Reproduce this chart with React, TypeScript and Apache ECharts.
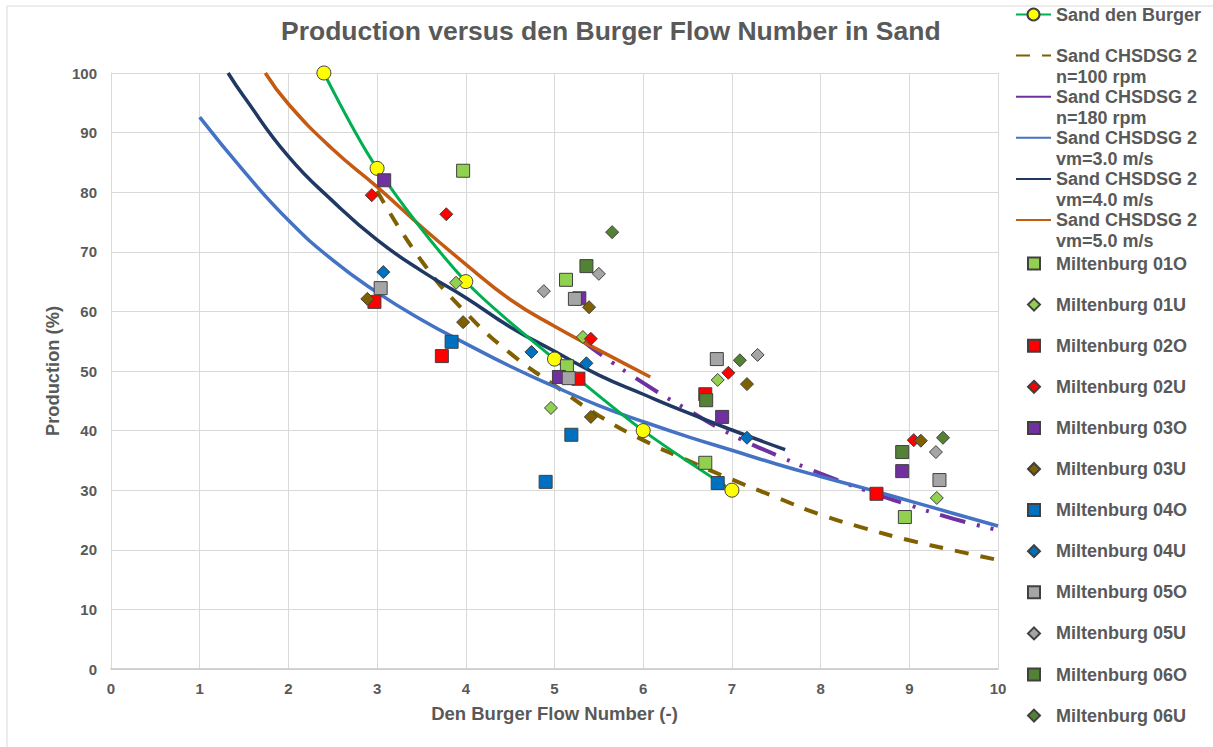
import React, { useEffect, useRef } from "react";
import * as echarts from "echarts";

// ---- Data ----
const sandDenBurgerX = [2.4, 3, 4, 5, 6, 7];
const sandDenBurgerY = [100, 84, 65, 52, 40, 30];

const n100X = [3.0, 3.5, 4, 4.5, 5, 5.5, 6, 6.5, 7, 7.5, 8, 8.5, 9, 9.5, 10];
const n100Y = [80.2, 68.5, 59.8, 53, 47.6, 42.5, 38.4, 35, 31.8, 28.8, 25.9, 23.6, 21.6, 19.9, 18.3];

const n180X = [5.3, 5.5, 6, 6.5, 7, 7.5, 8, 8.5, 9, 9.5, 10];
const n180Y = [55.3, 53, 48, 43.5, 39.3, 35.9, 32.8, 30, 27.5, 25.2, 23.3];

const vm3X = [1, 1.5, 2, 2.5, 3, 3.5, 4, 4.5, 5, 5.5, 6, 6.5, 7, 7.5, 8, 8.5, 9, 9.5, 10];
const vm3Y = [92.6, 83.5, 75.3, 68.6, 63.2, 58.6, 54.6, 50.8, 47.4, 44.2, 41.5, 39, 36.7, 34.4, 32.3, 30.3, 28.2, 26.1, 24];

const vm4X = [1.32, 1.5, 2, 2.5, 3, 3.5, 4, 4.5, 5, 5.5, 6, 6.5, 7, 7.6];
const vm4Y = [100, 96, 86, 78.5, 72, 66.8, 62.3, 57.4, 53.3, 49.3, 46.1, 43, 40.1, 36.8];

const vm5X = [1.74, 2, 2.5, 3, 3.5, 4, 4.5, 5, 5.5, 6.08];
const vm5Y = [100, 94.8, 87.2, 80.9, 74.2, 67.9, 62, 57.5, 53.5, 49];

const m01O = [[3.97, 83.6], [5.13, 65.3], [5.14, 50.8], [6.7, 34.6], [8.95, 25.5]];
const m01U = [[3.89, 64.8], [5.32, 55.7], [4.96, 43.8], [6.84, 48.5], [9.31, 28.7]];
const m02O = [[2.97, 61.6], [3.73, 52.5], [5.27, 48.7], [6.7, 46.1], [8.63, 29.4]];
const m02U = [[2.94, 79.5], [3.78, 76.3], [5.41, 55.4], [6.96, 49.7], [9.05, 38.4]];
const m03O = [[3.08, 82.0], [5.28, 62.2], [5.05, 49.0], [6.89, 42.3], [8.92, 33.2]];
const m03U = [[2.89, 62.1], [3.97, 58.2], [5.39, 60.7], [5.41, 42.3], [7.17, 47.8], [9.13, 38.3]];
const m04O = [[3.84, 54.9], [5.19, 39.3], [4.9, 31.4], [6.84, 31.2]];
const m04U = [[3.07, 66.6], [4.74, 53.2], [5.36, 51.3], [7.17, 38.8]];
const m05O = [[3.04, 63.9], [5.23, 62.1], [5.16, 48.8], [6.83, 52.0], [9.34, 31.7]];
const m05U = [[4.88, 63.4], [5.5, 66.3], [7.29, 52.7], [9.3, 36.4]];
const m06O = [[5.36, 67.6], [6.71, 45.1], [8.92, 36.4]];
const m06U = [[5.65, 73.3], [7.09, 51.8], [9.38, 38.8]];

const curveNames = [
  "Sand CHSDSG 2\nn=100 rpm",
  "Sand CHSDSG 2\nn=180 rpm",
  "Sand CHSDSG 2\nvm=3.0 m/s",
  "Sand CHSDSG 2\nvm=4.0 m/s",
  "Sand CHSDSG 2\nvm=5.0 m/s",
];

const FONT = "'Liberation Sans', Arial, sans-serif";
const GREY = "#595959";

const zip = (xs: number[], ys: number[]) => xs.map((x, i) => [x, ys[i]]);

export default function App() {
  const ref = useRef<HTMLDivElement>(null);
  useEffect(() => {
    if (!ref.current) return;
    const chart = echarts.init(ref.current, undefined, { renderer: "svg" });

    const scatterDefs: [string, number[][], string, string][] = [
      ["Miltenburg 01O", m01O, "rect", "#92D050"],
      ["Miltenburg 01U", m01U, "diamond", "#92D050"],
      ["Miltenburg 02O", m02O, "rect", "#FF0000"],
      ["Miltenburg 02U", m02U, "diamond", "#FF0000"],
      ["Miltenburg 03O", m03O, "rect", "#7030A0"],
      ["Miltenburg 03U", m03U, "diamond", "#7F6000"],
      ["Miltenburg 04O", m04O, "rect", "#0070C0"],
      ["Miltenburg 04U", m04U, "diamond", "#0070C0"],
      ["Miltenburg 05O", m05O, "rect", "#A5A5A5"],
      ["Miltenburg 05U", m05U, "diamond", "#A5A5A5"],
      ["Miltenburg 06O", m06O, "rect", "#548235"],
      ["Miltenburg 06U", m06U, "diamond", "#548235"],
    ];

    const curveDefs: [string, number[][], string, any, number][] = [
      [curveNames[0], zip(n100X, n100Y), "#806000", [14, 12], 4],
      [curveNames[1], zip(n180X, n180Y), "#7030A0", [26, 12, 3, 11, 3, 12], 4],
      [curveNames[2], zip(vm3X, vm3Y), "#4472C4", "solid", 3.5],
      [curveNames[3], zip(vm4X, vm4Y), "#203864", "solid", 3.5],
      [curveNames[4], zip(vm5X, vm5Y), "#C55A11", "solid", 3.5],
    ];

    const series: any[] = [
      {
        name: "Sand den Burger",
        type: "line",
        data: zip(sandDenBurgerX, sandDenBurgerY),
        smooth: 0.3,
        symbol: "circle",
        symbolSize: 14,
        z: 3,
        lineStyle: { color: "#00B050", width: 3 },
        itemStyle: { color: "#FFFF00", borderColor: "#404040", borderWidth: 1 },
      },
      ...curveDefs.map(([name, data, color, type, width]) => ({
        name,
        type: "line",
        data,
        smooth: true,
        symbol: "none",
        z: 2,
        lineStyle: { color, type, width, cap: "butt" },
        itemStyle: { color },
      })),
      ...scatterDefs.map(([name, data, symbol, color]) => ({
        name,
        type: "scatter",
        data,
        symbol,
        symbolSize: 13,
        z: 4,
        itemStyle: { color, borderColor: "#404040", borderWidth: 1, opacity: 1 },
      })),
    ];

    const lineLegendData: any[] = [
      { name: "Sand den Burger" },
      ...curveNames.map((n, i) => ({
        name: n,
        itemStyle: { opacity: 0 },
        ...(i === 1 ? { lineStyle: { type: "solid" } } : {}),
      })),
    ];
    const scatterLegendData: any[] = scatterDefs.map(([name]) => ({ name }));

    const legendText = { fontFamily: FONT, fontSize: 18, fontWeight: "bold", color: GREY, lineHeight: 21 };
    const fmt = (name: string) => (name.indexOf("\n") >= 0 ? "\n" + name : "\n" + name + "\n");

    chart.setOption({
      animation: false,
      backgroundColor: "#ffffff",
      textStyle: { fontFamily: FONT },
      title: {
        text: "Production versus den Burger Flow Number in Sand",
        left: 281,
        top: 17,
        padding: 0,
        textStyle: { fontFamily: FONT, fontSize: 26.5, fontWeight: "bold", color: GREY },
      },
      graphic: [
        {
          type: "rect",
          shape: { x: 7, y: 6, width: 1220, height: 760 },
          style: { fill: "none", stroke: "#D9D9D9", lineWidth: 1 },
          silent: true,
          z: -10,
        },
      ],
      legend: [
        {
          orient: "vertical",
          left: 1015,
          top: -17,
          height: 900,
          padding: 0,
          itemGap: -21.9,
          itemWidth: 35,
          itemHeight: 15,
          selectedMode: false,
          data: lineLegendData,
          formatter: fmt,
          textStyle: legendText,
        },
        {
          orient: "vertical",
          left: 1027,
          top: 232,
          height: 900,
          padding: 0,
          itemGap: -21.9,
          itemWidth: 12,
          itemHeight: 12,
          selectedMode: false,
          data: scatterLegendData,
          formatter: fmt,
          textStyle: { ...legendText, padding: [0, 0, 0, 11] },
        },
      ],
      grid: { left: 111, top: 73, right: 215, bottom: 78 },
      xAxis: {
        type: "value",
        min: 0,
        max: 10,
        interval: 1,
        name: "Den Burger Flow Number (-)",
        nameLocation: "middle",
        nameGap: 35,
        nameTextStyle: { fontFamily: FONT, fontSize: 18.5, fontWeight: "bold", color: GREY },
        axisLine: { show: true, lineStyle: { color: "#C8C8C8", width: 1.5 } },
        axisTick: { show: false },
        axisLabel: { fontFamily: FONT, fontSize: 15, fontWeight: "bold", color: GREY, margin: 12 },
        splitLine: { show: true, lineStyle: { color: "#D9D9D9", width: 1 } },
      },
      yAxis: {
        type: "value",
        min: 0,
        max: 100,
        interval: 10,
        name: "Production (%)",
        nameLocation: "middle",
        nameGap: 45,
        nameTextStyle: { fontFamily: FONT, fontSize: 18.3, fontWeight: "bold", color: GREY },
        axisLine: { show: true, lineStyle: { color: "#D9D9D9", width: 1 } },
        axisTick: { show: false },
        axisLabel: { fontFamily: FONT, fontSize: 15, fontWeight: "bold", color: GREY, margin: 14 },
        splitLine: { show: true, lineStyle: { color: "#D9D9D9", width: 1 } },
      },
      series,
    });

    return () => chart.dispose();
  }, []);

  return (
    <div
      ref={ref}
      style={{ position: "absolute", left: 0, top: 0, width: 1213, height: 747, background: "#fff" }}
    />
  );
}
